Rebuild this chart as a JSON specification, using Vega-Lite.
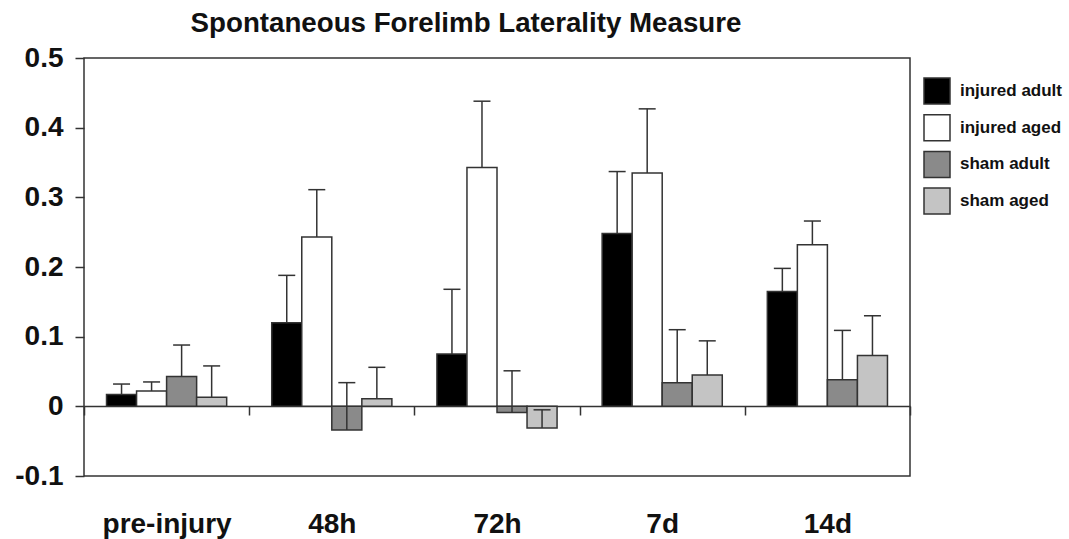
{
  "$schema": "https://vega.github.io/schema/vega-lite/v6.json",
  "width": 826,
  "height": 418,
  "autosize": {"type": "none"},
  "padding": {"left": 84, "top": 58, "right": 159, "bottom": 63},
  "background": "white",
  "title": {
    "text": "Spontaneous Forelimb Laterality Measure",
    "font": "Liberation Sans",
    "fontSize": 27.7,
    "fontWeight": "bold",
    "color": "#111111",
    "anchor": "middle",
    "frame": "group",
    "dx": -31,
    "baseline": "alphabetic",
    "offset": -16
  },
  "data": {
    "values": [
      {"time": "pre-injury", "group": "injured adult", "value": 0.017, "upper": 0.032},
      {"time": "pre-injury", "group": "injured aged", "value": 0.022, "upper": 0.035},
      {"time": "pre-injury", "group": "sham adult", "value": 0.043, "upper": 0.088},
      {"time": "pre-injury", "group": "sham aged", "value": 0.013, "upper": 0.058},
      {"time": "48h", "group": "injured adult", "value": 0.120, "upper": 0.188},
      {"time": "48h", "group": "injured aged", "value": 0.243, "upper": 0.311},
      {"time": "48h", "group": "sham adult", "value": -0.034, "upper": 0.034},
      {"time": "48h", "group": "sham aged", "value": 0.011, "upper": 0.056},
      {"time": "72h", "group": "injured adult", "value": 0.075, "upper": 0.168},
      {"time": "72h", "group": "injured aged", "value": 0.343, "upper": 0.438},
      {"time": "72h", "group": "sham adult", "value": -0.009, "upper": 0.051},
      {"time": "72h", "group": "sham aged", "value": -0.031, "upper": -0.005},
      {"time": "7d", "group": "injured adult", "value": 0.248, "upper": 0.337},
      {"time": "7d", "group": "injured aged", "value": 0.335, "upper": 0.427},
      {"time": "7d", "group": "sham adult", "value": 0.034, "upper": 0.110},
      {"time": "7d", "group": "sham aged", "value": 0.045, "upper": 0.094},
      {"time": "14d", "group": "injured adult", "value": 0.165, "upper": 0.198},
      {"time": "14d", "group": "injured aged", "value": 0.232, "upper": 0.266},
      {"time": "14d", "group": "sham adult", "value": 0.038, "upper": 0.109},
      {"time": "14d", "group": "sham aged", "value": 0.073, "upper": 0.130}
    ]
  },
  "encoding": {
    "x": {
      "field": "time",
      "type": "nominal",
      "sort": ["pre-injury", "48h", "72h", "7d", "14d"],
      "scale": {"paddingInner": 0, "paddingOuter": 0},
      "axis": {
        "title": null,
        "labelAngle": 0,
        "offset": -70,
        "domainColor": "#333333",
        "domainWidth": 1.5,
        "tickColor": "#333333",
        "tickWidth": 1.5,
        "tickSize": 9,
        "tickBand": "extent",
        "labelPadding": 117,
        "labelBaseline": "alphabetic",
        "labelFont": "Liberation Sans",
        "labelFontSize": 28,
        "labelFontWeight": "bold",
        "labelColor": "#111111"
      }
    },
    "xOffset": {
      "field": "group",
      "type": "nominal",
      "sort": ["injured adult", "injured aged", "sham adult", "sham aged"],
      "scale": {"paddingInner": 0, "paddingOuter": 0.75}
    }
  },
  "layer": [
    {
      "mark": {"type": "bar", "stroke": "#333333", "strokeWidth": 1.5},
      "encoding": {
        "y": {
          "field": "value",
          "type": "quantitative",
          "scale": {"domain": [-0.1, 0.5], "nice": false, "zero": true},
          "axis": {
            "title": null,
            "values": [-0.1, 0, 0.1, 0.2, 0.3, 0.4, 0.5],
            "labelExpr": "datum.value == 0 ? '0' : toString(round(datum.value * 10) / 10)",
            "domain": false,
            "grid": false,
            "tickColor": "#333333",
            "tickWidth": 1.5,
            "tickSize": 9,
            "labelPadding": 12,
            "labelFont": "Liberation Sans",
            "labelFontSize": 28,
            "labelFontWeight": "bold",
            "labelColor": "#111111"
          }
        },
        "color": {
          "field": "group",
          "type": "nominal",
          "scale": {
            "domain": ["injured adult", "injured aged", "sham adult", "sham aged"],
            "range": ["#000000", "#ffffff", "#8a8a8a", "#c4c4c4"]
          },
          "legend": {
            "title": null,
            "orient": "none",
            "legendX": 839,
            "legendY": 19,
            "padding": 0,
            "symbolType": "square",
            "symbolSize": 676,
            "symbolStrokeColor": "#333333",
            "symbolStrokeWidth": 1.5,
            "symbolOpacity": 1,
            "rowPadding": 4.7,
            "labelOffset": 9,
            "labelFont": "Liberation Sans",
            "labelFontSize": 17,
            "labelFontWeight": "bold",
            "labelColor": "#111111"
          }
        }
      }
    },
    {
      "mark": {"type": "rule", "color": "#333333", "strokeWidth": 1.5},
      "encoding": {
        "y": {"field": "value", "type": "quantitative"},
        "y2": {"field": "upper"}
      }
    },
    {
      "mark": {"type": "tick", "color": "#333333", "thickness": 1.5, "size": 17, "opacity": 1},
      "encoding": {
        "y": {"field": "upper", "type": "quantitative"}
      }
    }
  ],
  "config": {
    "view": {"stroke": "#333333", "strokeWidth": 1.5},
    "axis": {"grid": false}
  }
}
